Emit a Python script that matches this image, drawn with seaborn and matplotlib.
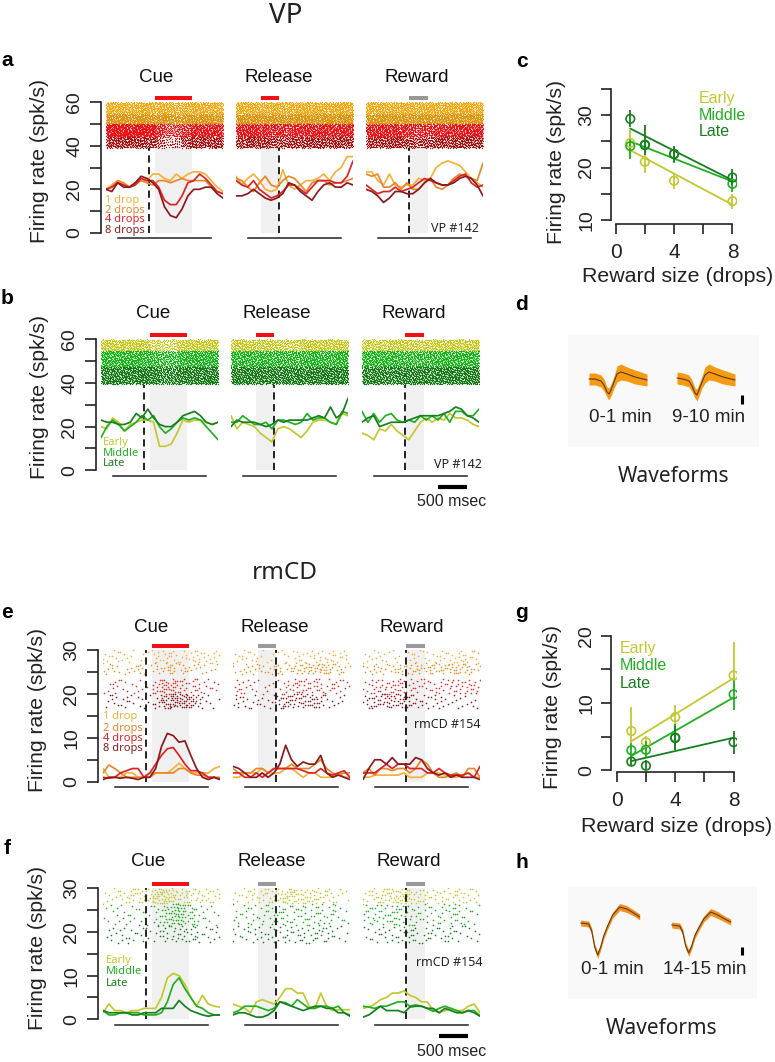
# Firing rates, rasters and waveforms for VP and rmCD neurons

import numpy as np
import pandas as pd
import matplotlib
matplotlib.use("Agg")
import matplotlib.pyplot as plt
import seaborn as sns

W, H = 775, 1062

## Firing rate curves (spk/s), one value every 100 ms from -735 to 1265 ms
curve_t = np.arange(-735, 1266, 100)

a_cue = [[20,22,24,22,21,22,24,24,27,27,25,24,27,25,27,28,28,27,24,21,19],
         [20,21,24,23,21,23,24,23,22,24,24,23,24,25,24,24,24,24,21,19,18],
         [20,21,23,22,21,22,25,24,24,21,15,13,13,17,23,24,27,25,22,19,18],
         [20,19,23,21,21,23,26,25,23,20,12,8,7,11,17,20,20,21,21,18,16]]
a_release = [[26,22,25,27,24,20,19,20,29,22,20,22,24,24,25,27,24,28,30,35,35],
             [25,24,21,19,23,26,22,21,24,26,25,22,19,23,24,24,22,23,23,24,25],
             [24,22,21,24,20,18,16,17,19,22,22,20,18,21,24,24,24,23,23,26,33],
             [17,17,18,20,18,16,15,16,18,23,22,19,17,15,19,22,23,21,21,23,22]]
a_reward = [[28,28,24,22,27,22,21,22,22,25,24,25,30,32,33,32,31,28,25,23,21],
            [27,26,27,21,21,23,20,23,20,20,23,25,21,20,22,25,27,26,25,24,32],
            [22,20,18,19,19,21,19,20,21,23,25,24,23,22,22,24,26,27,23,21,22],
            [20,19,17,14,16,19,19,18,18,20,23,25,23,22,22,23,25,26,25,22,17]]

b_cue = [[20,19,24,22,18,21,22,23,23,22,11,11,12,17,23,22,23,23,22,21,22],
         [15,20,23,21,18,20,22,25,23,25,20,17,19,22,24,23,24,23,20,17,14],
         [23,22,22,21,21,22,26,24,28,24,21,20,20,22,25,26,27,25,22,21,22]]
b_release = [[25,19,22,21,20,17,15,13,19,20,19,17,15,18,22,23,23,22,21,26,25],
             [22,22,25,23,21,21,22,19,23,23,22,21,22,26,23,24,24,22,21,27,26],
             [20,23,22,22,22,21,20,21,23,22,23,23,23,23,24,25,24,29,24,26,33]]
b_reward = [[17,16,14,19,18,21,18,16,14,18,22,24,22,24,23,26,24,24,23,21,20],
            [27,22,26,22,25,26,23,22,23,22,25,23,25,23,26,22,27,27,25,25,28],
            [22,24,25,20,21,22,22,22,23,24,25,25,25,25,26,27,29,28,25,24,22]]

e_cue = [[3,1,1,1,2,2,1,1,2,2,2,2,3,4.2,3,2,2,2,2,3,3.5],
         [2,3.8,3,2,1,1,1,1,1,2,2,2,2,3,3,2,1.5,1.5,1,1,1],
         [1,.8,1,2,2.5,3,3,1,2,4,6,7.5,7.8,6,4,2.5,2.5,2,1,1,.5],
         [.5,1,1,.8,1,.8,.5,1,1,3,8,11,10.5,9,9.3,6,3,1,.5,1,.5]]
e_release = [[1,1,2,2,2,3,2,2,2,3,3,2,1,2,2,1,1,1,2,1,1],
             [3,2,2,2,3,3,2,3,3,3,4,3,3,3,4,5,3,2,1.5,2,2],
             [2,2,1,1,2,1,2,3,3,3,3,3,2.5,2,2,3,2,1.5,2,2.5,1],
             [3.5,3,2,1,1,2,1,2,4,8.3,5,3.5,4.5,4,4,6,2,1,1.5,1,.5]]
e_reward = [[1,1,1.5,1.5,1.5,1.5,1.5,2,1,1,1,2,2,2,1.5,1,1,1.5,2,1,1],
            [2,3,1.5,3,3,2.5,3,3,2,3,5,4,2,1,1,1.5,2,1,3,3,1],
            [2,2,2,3,4,3,4,4,3,3,3,2,2,3,2,1.5,1.5,1.5,2,1,3.5],
            [.5,3,5,5,4,5.5,4,4,4,5.5,5,3,2,1.5,2,1,1.5,1,1,1,.5]]

f_cue = [[1.5,3.5,2,2,1.5,2,2,2.5,2.5,2.5,5,9.5,10.5,10,8,5,3,5.5,3.5,3,2.8],
         [2,1,1,1.5,1.5,1.5,1.5,1,1,1,1.5,4,8,9.5,7,5,3,2.5,1.5,1,1],
         [2,1.5,1.5,1.5,1.5,1,1,1.5,1.5,1.5,2.5,2.5,2.5,4.3,3,2,1.5,1,.7,1,1]]
f_release = [[3.5,3,2.5,1.5,4,4.5,4,3.5,5,7,7,6,6,3,2.5,6,3,2,2.2,2.2,2.2],
             [1.5,2,3,3,3,2.5,2,2.5,4,3.8,3,4.5,3.5,2.5,2.5,3,3,2.5,3,1.5,1],
             [1,1.5,1.5,1,.5,.5,1,2,4,3.5,3,2.5,2,2.5,3,3,2.5,2.5,1.5,1.5,.7]]
f_reward = [[2.5,2.8,3.5,4.5,5,6,6,6.5,5.5,5,4,4,2,1.5,2,2.5,2,2,3,3.5,1.5],
            [3,2.8,2.5,3,3,3.5,4,4,3,3.3,3,2.5,1.8,2.5,3,2.5,2,1.5,2,2,.8],
            [.5,1,2,3,2,2,2,1.5,2.8,3,3,2.5,2.5,1.5,2.5,2,1.5,1.5,2,1.5,.7]]

## Raster density: dots per time bin (14 bins) in each band.
## Single spikes cannot be read, so dots are spread evenly inside each bin.
a_cue_raster = [[72,70,75,72,74,70,72,66,62,66,72,72,70,70],
                [78,76,80,78,78,76,78,70,64,72,78,78,78,76],
                [108,108,108,108,108,108,72,52,56,74,88,90,90,90],
                [62,62,60,62,60,56,40,22,26,48,62,62,60,58]]
a_release_raster = [[72,72,72,70,72,68,68,70,74,72,74,74,76,76],
                    [78,76,76,76,76,74,76,76,76,76,78,78,78,78],
                    [86,90,88,86,80,78,78,84,86,88,88,88,90,88],
                    [58,60,60,58,52,52,56,58,60,62,60,60,58,60]]
a_reward_raster = [[72,70,72,72,72,70,70,72,72,74,76,76,74,72],
                   [76,78,78,76,76,76,78,74,76,76,78,78,76,76],
                   [86,88,88,88,84,78,70,72,80,86,88,90,88,88],
                   [56,58,58,60,58,54,50,52,58,60,62,62,60,58]]

b_cue_raster = [[62,62,62,62,62,58,42,36,40,56,60,62,62,62],
                [100,100,100,100,100,96,86,72,76,90,98,100,100,100],
                [118,118,118,120,120,122,112,92,98,110,116,118,118,118]]
b_release_raster = [[60,62,60,60,58,52,48,50,58,60,60,62,62,62],
                    [98,98,96,96,92,88,86,88,92,96,98,100,100,100],
                    [114,114,112,112,108,106,112,110,112,114,116,118,118,118]]
b_reward_raster = [[56,50,54,60,60,56,52,54,58,60,60,60,60,62],
                   [96,94,92,92,90,92,92,94,96,96,96,98,98,98],
                   [112,110,108,104,106,112,112,114,114,114,116,116,116,116]]

e_cue_raster = [[5,5,4,3,2,3,6,7,6,5,5,6,6,6],
                [4,5,2,4,6,2,5,7,7,6,4,4,3,2],
                [3,6,4,3,4,2,9,16,14,9,6,6,5,4],
                [3,5,5,3,4,3,7,14,20,18,16,8,3,2]]
e_release_raster = [[4,5,5,2,3,3,3,5,4,5,5,6,5,5],
                    [3,5,5,5,5,7,5,7,8,9,11,9,6,3],
                    [6,5,4,3,3,4,7,10,9,7,7,6,7,4],
                    [6,5,5,3,4,7,12,11,12,12,7,4,3,2]]
e_reward_raster = [[4,4,4,3,2,3,5,4,3,5,5,6,6,5],
                   [4,6,5,5,7,6,8,5,8,8,9,9,8,4],
                   [5,8,9,9,10,6,5,6,5,7,8,8,9,7],
                   [7,9,11,12,12,9,5,6,5,5,3,4,3,3]]

f_cue_raster = [[4,4,6,9,9,10,18,20,14,9,8,8,7,6],
                [4,5,5,5,4,5,8,15,22,20,14,7,4,3],
                [3,4,5,5,5,3,5,7,8,8,7,6,5,5]]
f_release_raster = [[5,5,6,7,8,11,14,13,12,11,8,6,4,3],
                    [6,6,6,7,7,8,8,8,9,9,9,7,6,3],
                    [5,5,5,5,6,5,7,5,6,7,8,7,4,2]]
f_reward_raster = [[6,8,10,14,14,14,9,7,6,5,7,6,6,5],
                   [8,10,9,10,10,9,8,6,6,7,8,8,5,4],
                   [4,5,5,5,6,6,6,6,6,5,7,4,4,3]]

## Reward size tuning: mean, upper and lower error bar per reward size
drops = [1, 2, 4, 8]
c_mean = [[24.7,21.1,17.5,13.6], [24.1,24.4,22.6,16.9], [29.3,24.3,22.6,18.1]]
c_top = [[27.1,22.4,18.9,15.0], [25.6,26.2,24.0,18.6], [31.0,28.1,24.1,19.7]]
c_bot = [[22.0,18.9,16.0,12.1], [21.6,22.6,20.9,15.4], [27.8,22.4,21.0,16.7]]
g_mean = [[5.85,4.2,7.9,14.1], [3.0,3.05,4.9,11.3], [1.3,0.7,4.8,4.2]]
g_top = [[9.4,5.1,9.7,19.1], [4.1,4.3,6.9,13.4], [2.0,1.5,6.6,5.9]]
g_bot = [[4.0,3.0,6.4,11.7], [2.0,1.8,3.0,8.9], [0.7,0.2,3.0,2.5]]

## Spike waveforms: sample position, mean trace, half width of the spike band
wave_d_x = [0,6,12,15,18,20,22,25,28,32,38,46,58]
wave_d1 = [0,0,-2,-6,-13,-15,-11,-3,5,7,5,2,-1]
wave_d2 = [1,0,-2,-7,-14,-16,-11,-3,4,7,5,2,-1]
wave_d_w = [6,6,6,6,5,6,6,6,8,8,7,7,6]
wave_h_x = [0,8,11,14,17,20,23,27,32,39,46,53,59]
wave_h1 = [0,-1,-8,-24,-32,-24,-13,-3,8,16,14,10,6]
wave_h2 = [-2,-3,-9,-23,-30,-23,-13,-5,4,11,8,4,1]
wave_h_w = [3,3,3,3,3.5,3,3,3,3,3.5,3.5,3,3]

## Colours
drop_lines = ["#F4B23A", "#E8872B", "#DC2428", "#8B1A1E"]
drop_dots_a = ["#F9A80E", "#DE9612", "#F01418", "#A51313"]
drop_dots_e = ["#F5B040", "#E99020", "#E8302A", "#8E1A1E"]
stage_colors = ["#C4C82E", "#22B022", "#187F20"]
stage_dots_b = ["#C4C81E", "#1BB31B", "#177A17"]
red_bar = "#F01018"
grey_bar = "#999999"

drop_names = ["1 drop", "2 drops", "4 drops", "8 drops"]
stage_names = ["Early", "Middle", "Late"]
event_names = ["Cue", "Release", "Reward"]

sns.set_style("white")
plt.rcParams["font.family"] = ["Liberation Sans", "DejaVu Sans"]
fig = plt.figure(figsize=(W / 100, H / 100), dpi=100)


def add_ax(x0, y0, x1, y1):
    return fig.add_axes([x0 / W, 1 - y1 / H, (x1 - x0) / W, (y1 - y0) / H])


def put(x, y, s, **kw):
    kw.setdefault("ha", "center")
    kw.setdefault("va", "center")
    fig.text(x / W, 1 - y / H, s, **kw)


def draw_raster(ax, grid, bands, colors, dot_size):
    edges = np.linspace(-735, 1265, len(grid[0]) + 1)
    k = 0
    for counts, (hi, lo), col in zip(grid, bands, colors):
        xs, ys = [], []
        for i, n in enumerate(counts):
            idx = np.arange(k, k + n)
            k += n
            xs.extend(edges[i] + ((idx * 0.7548777) % 1) * (edges[i + 1] - edges[i]))
            ys.extend(lo + ((idx * 0.5698403) % 1) * (hi - lo))
        df = pd.DataFrame({"t": xs, "y": ys})
        sns.scatterplot(data=df, x="t", y="y", ax=ax, color=col, s=dot_size, marker="o",
                        linewidth=0, legend=False, zorder=3)


def draw_row(lefts, top, bottom, ymax, yticks, ylabels, curves, rasters, bands,
             dot_colors, line_colors, bars, grey_top, dot_size):
    windows = [(100, 735), (-310, 0), (0, 325)]
    axes = []
    for j, left in enumerate(lefts):
        ax = add_ax(left, top, left + 117, bottom)
        ax.patch.set_alpha(0)
        ax.axvspan(windows[j][0], windows[j][1], ymin=0, ymax=grey_top / ymax,
                   color="#F0F0F0", lw=0, zorder=0)
        ax.plot([0, 0], [0, grey_top], color="#111111", lw=1.3, dashes=(4, 2.5), zorder=4)
        draw_raster(ax, rasters[j], bands, dot_colors, dot_size)
        for vals, col in zip(curves[j], line_colors):
            sns.lineplot(x=curve_t, y=vals, ax=ax, color=col, lw=1.25, errorbar=None,
                         legend=False, zorder=5)
        ax.plot(windows[j], [1 + 4.3 / (bottom - top)] * 2, color=bars[j], lw=2.9,
                solid_capstyle="butt", clip_on=False, transform=ax.get_xaxis_transform())
        ax.set_xlim(-735, 1265)
        ax.set_ylim(0, ymax)
        ax.set_xlabel("")
        ax.set_ylabel("")
        ax.set_xticks([])
        sns.despine(ax=ax, top=True, right=True, left=j > 0)
        ax.spines["bottom"].set_position(("outward", 3.8))
        ax.spines["bottom"].set_bounds(-530, 1060)
        ax.spines["bottom"].set_linewidth(1.1)
        ax.spines["bottom"].set_color("#222222")
        if j == 0:
            ax.spines["left"].set_position(("outward", 3.6))
            ax.spines["left"].set_linewidth(1.2)
            ax.spines["left"].set_color("#222222")
            ax.spines["left"].set_bounds(0, ymax)
            ax.set_yticks(yticks)
            ax.set_yticklabels(ylabels, rotation=90, va="center", fontsize=14)
            ax.tick_params(axis="y", left=True, length=7.8, width=1.2, color="#222222",
                           pad=5, labelcolor="#222222")
        else:
            ax.set_yticks([])
        axes.append(ax)
    return axes


def draw_tuning(box, xlim, ylim, yticks, ylabels, ybounds, means, tops, bots):
    ax = add_ax(*box)
    ax.patch.set_alpha(0)
    for m, t, b, col in zip(means, tops, bots, stage_colors):
        ax.vlines(drops, b, t, color=col, lw=1.3, zorder=2)
        sns.regplot(x=drops, y=m, ax=ax, scatter=False, ci=None, truncate=True, color=col,
                    line_kws={"lw": 1.3, "zorder": 2})
        sns.scatterplot(x=drops, y=m, ax=ax, color=col, s=38, linewidth=1.2, legend=False,
                        zorder=3)
        pts = ax.collections[-1]
        pts.set_facecolor("none")
        pts.set_edgecolor(col)
    ax.set_xlim(*xlim)
    ax.set_ylim(*ylim)
    sns.despine(ax=ax)
    ax.spines["left"].set_bounds(*ybounds)
    ax.spines["bottom"].set_bounds(0, 8)
    for side in ["left", "bottom"]:
        ax.spines[side].set_linewidth(1.2)
        ax.spines[side].set_color("#222222")
    ax.set_xticks([0, 2, 4, 6, 8])
    ax.set_xticklabels(["0", "", "4", "", "8"], fontsize=15)
    ax.set_yticks(yticks)
    ax.set_yticklabels(ylabels, rotation=90, va="center", fontsize=14)
    ax.tick_params(axis="y", left=True, length=7.5, width=1.2, color="#222222", pad=4,
                   labelcolor="#222222")
    ax.tick_params(axis="x", bottom=True, length=7.5, width=1.2, color="#222222", pad=6,
                   labelcolor="#222222")
    ax.set_xlabel("")
    ax.set_ylabel("")
    return ax


def draw_waves(box, ylim, xs, traces, offsets, widths, band_col, mean_col):
    ax = add_ax(*box)
    ax.set_facecolor("#F9F9F9")
    for tr, off in zip(traces, offsets):
        x = np.array(xs) + off
        tr = np.array(tr)
        w = np.array(widths)
        ax.fill_between(x, tr - w, tr + w, color=band_col, lw=0)
        sns.lineplot(x=x, y=tr, ax=ax, color=mean_col, lw=0.8, errorbar=None, legend=False)
    ax.set_xlim(0, box[2] - box[0])
    ax.set_ylim(*ylim)
    ax.set_xticks([])
    ax.set_yticks([])
    ax.set_xlabel("")
    ax.set_ylabel("")
    sns.despine(ax=ax, left=True, bottom=True)
    return ax


## Rows of rasters and rates
ticks60, labs60 = [0, 10, 20, 30, 40, 50, 60], ["0", "", "20", "", "40", "", "60"]
ticks30, labs30 = [0, 5, 10, 15, 20, 25, 30], ["0", "", "10", "", "20", "", "30"]
bands_a = [(60, 54.5), (54.5, 50), (50, 44), (44, 39)]
bands_b = [(60, 54.8), (54.8, 47.5), (47.5, 39.5)]
bands_e = [(30, 27), (27, 24.5), (23.5, 20), (20, 16.7)]
bands_f = [(30, 26.5), (26.5, 21.5), (21.5, 17.5)]

draw_row([106, 236, 366], 102, 233, 60, ticks60, labs60,
         [a_cue, a_release, a_reward],
         [a_cue_raster, a_release_raster, a_reward_raster],
         bands_a, drop_dots_a, drop_lines, [red_bar, red_bar, grey_bar], 39, 0.9)
axes_b = draw_row([101, 231, 362], 339.3, 470.3, 60, ticks60, labs60,
                  [b_cue, b_release, b_reward],
                  [b_cue_raster, b_release_raster, b_reward_raster],
                  bands_b, stage_dots_b, stage_colors, [red_bar, red_bar, red_bar], 39, 0.9)
draw_row([103, 233, 363], 650, 781.7, 30, ticks30, labs30,
         [e_cue, e_release, e_reward],
         [e_cue_raster, e_release_raster, e_reward_raster],
         bands_e, drop_dots_e, drop_lines, [red_bar, grey_bar, grey_bar], 30, 1.4)
axes_f = draw_row([103, 233, 363], 888.3, 1019.3, 30, ticks30, labs30,
                  [f_cue, f_release, f_reward],
                  [f_cue_raster, f_release_raster, f_reward_raster],
                  bands_f, stage_colors, stage_colors, [red_bar, grey_bar, grey_bar], 30, 1.4)

## 500 msec scale bars
for ax, drop_y in [(axes_b[2], -16.5 / 131), (axes_f[2], -16.5 / 131)]:
    ax.plot([560, 1060], [drop_y, drop_y], color="black", lw=3, solid_capstyle="butt",
            clip_on=False, transform=ax.get_xaxis_transform())
put(452, 502, "500 msec", fontsize=11.5, color="#222222")
put(452, 1051, "500 msec", fontsize=11.5, color="#222222")

## Panels c and g
draw_tuning((611, 89, 737, 224), (-0.32, 8.31), (9.24, 35), [10, 15, 20, 25, 30, 35],
            ["10", "", "20", "", "30", ""], (10, 35), c_mean, c_top, c_bot)
draw_tuning((611, 635.7, 737, 772.3), (-0.39, 8.23), (-0.28, 20), [0, 5, 10, 15, 20],
            ["0", "", "10", "", "20"], (0, 20), g_mean, g_top, g_bot)

## Panels d and h
draw_waves((568, 335, 759, 447), (-68, 44), wave_d_x, [wave_d1, wave_d2], [21, 109],
           wave_d_w, "#F59A12", "#5A3A10")
draw_waves((568, 887, 757, 999), (-76, 36), wave_h_x, [wave_h1, wave_h2], [12.7, 103.7],
           wave_h_w, "#F0922A", "#6B3A00")
for x, y0, y1 in [(742, 395, 404), (742, 947, 955)]:
    fig.add_artist(plt.Line2D([x / W, x / W], [1 - y0 / H, 1 - y1 / H], color="black",
                              lw=2.2, solid_capstyle="butt"))

## Text: titles
human = ["Noto Sans", "DejaVu Sans"]
put(286, 16, "VP", fontsize=20, family=human, color="#222222")
put(285, 573, "rmCD", fontsize=17.5, family=human, color="#222222")
for (x, y), s in [((674, 477), "Waveforms"), ((662, 1029), "Waveforms")]:
    put(x, y, s, fontsize=15, family=human, color="#222222")

title_pos = [[(156, 78), (279, 78), (417, 78)],
             [(153, 313), (277, 313), (414, 313)],
             [(151, 627), (275, 627), (412, 627)],
             [(148, 862), (272, 862), (409, 862)]]
for row in title_pos:
    for (x, y), s in zip(row, event_names):
        put(x, y, s, fontsize=13.5, color="#111111")

for x, y in [(40, 161), (40, 397), (38, 710), (38, 948), (557, 162), (553, 707)]:
    put(x, y, "Firing rate (spk/s)", fontsize=15.2, rotation=90, color="#222222")
for x, y in [(678, 277), (677, 827)]:
    put(x, y, "Reward size (drops)", fontsize=15.4, color="#222222")

for (x, y), s in [((7, 61), "a"), ((7, 298), "b"), ((522, 62), "c"), ((522, 305), "d"),
                  ((7, 612), "e"), ((7, 848), "f"), ((522, 613), "g"), ((522, 863), "h")]:
    put(x, y, s, fontsize=15, fontweight="bold", color="black")

## Text: unit names
for (x, y), s in [((479, 228), "VP #142"), ((482, 464), "VP #142"),
                  ((480, 724), "rmCD #154"), ((483, 962), "rmCD #154")]:
    put(x, y, s, fontsize=9, ha="right", family=human, color="#222222")

## Text: colour keys
for ys, x in [((200, 210, 220, 230), 105), ((717, 728, 738, 749), 103)]:
    for y, s, col in zip(ys, drop_names, drop_lines):
        put(x, y, s, fontsize=8, ha="left", family=human, color=col)
for ys, x in [((443, 453, 464), 103), ((961, 972, 983), 106)]:
    for y, s, col in zip(ys, stage_names, stage_colors):
        put(x, y, s, fontsize=8, ha="left", family=human, color=col)
for ys, x in [((98, 115, 132), 699), ((648, 666, 683), 620)]:
    for y, s, col in zip(ys, stage_names, stage_colors):
        put(x, y, s, fontsize=11.5, ha="left", color=col)

## Waveform time windows
for (x, y), s in [((620, 418), "0-1 min"), ((709, 418), "9-10 min"),
                  ((612, 970), "0-1 min"), ((705, 970), "14-15 min")]:
    put(x, y, s, fontsize=13.5, color="#222222")

plt.savefig("out.png", dpi=100)
